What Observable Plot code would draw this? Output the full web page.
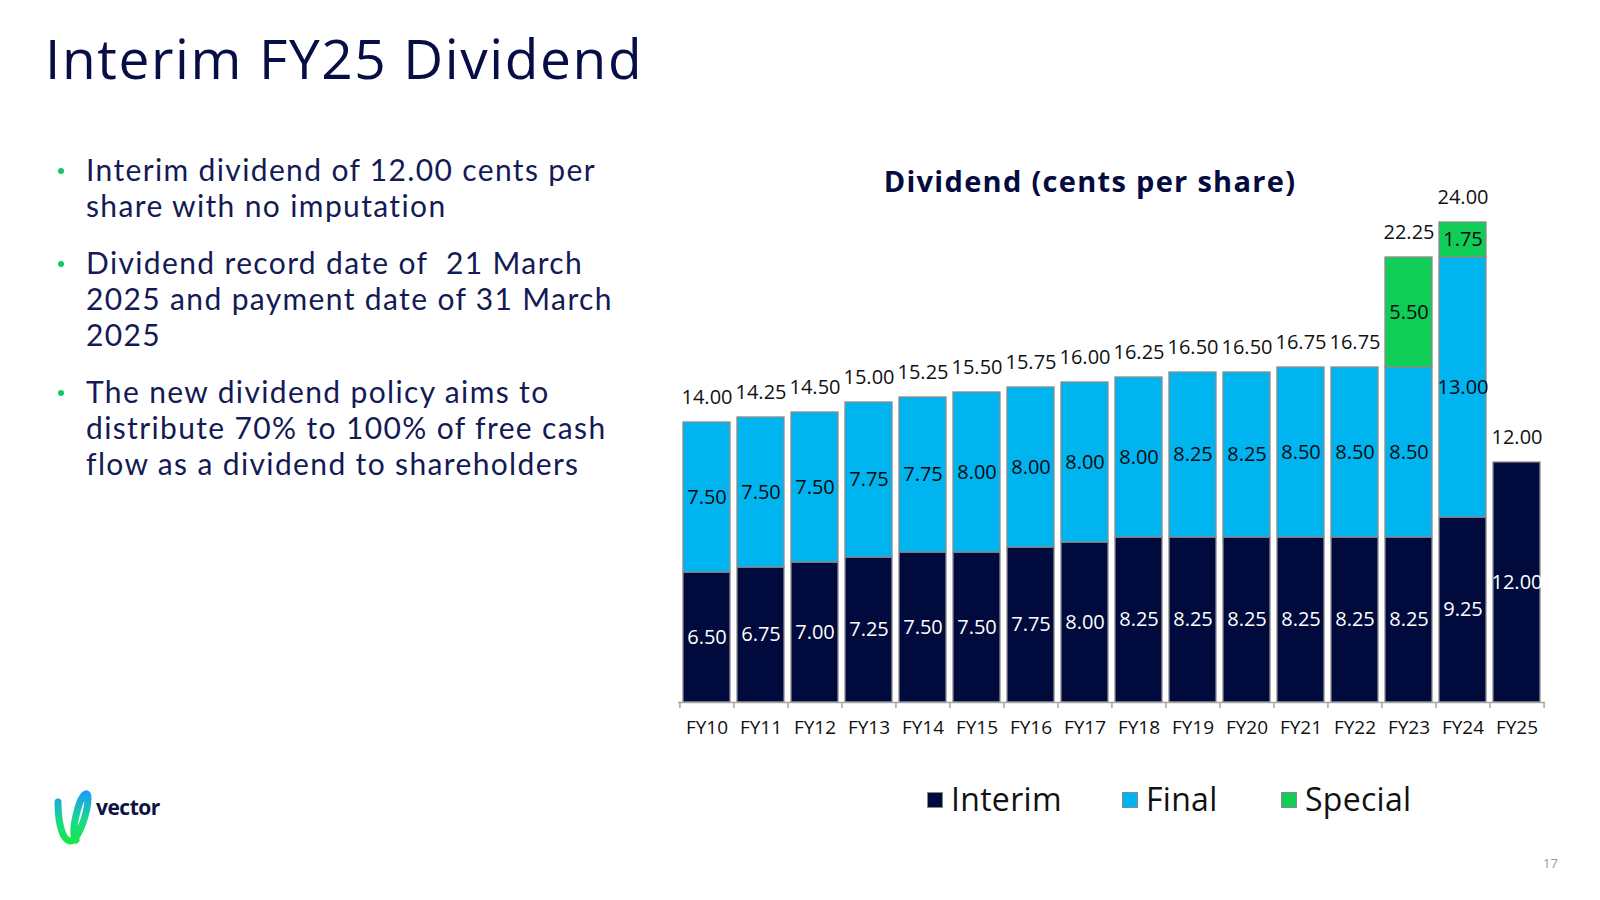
<!DOCTYPE html>
<html>
<head>
<meta charset="utf-8">
<script src="https://cdn.jsdelivr.net/npm/d3@7"></script>
<script src="https://cdn.jsdelivr.net/npm/@observablehq/plot@0.6"></script>
<style>
  html, body { margin: 0; padding: 0; background: #ffffff; }
  #page { position: relative; width: 1600px; height: 900px; overflow: hidden; font-family: "Open Sans", sans-serif; }
  #title { position: absolute; left: 45px; top: 31px; font-size: 55px; line-height: 54px; letter-spacing: 1.6px; color: #070d45; font-weight: 400; white-space: nowrap; }
  #bullets { position: absolute; left: 86px; top: 151px; width: 620px; margin: 0; padding: 0; list-style: none; color: #141a55; font-family: Lato, "Open Sans", sans-serif; font-weight: 400; font-size: 30px; line-height: 36px; letter-spacing: 1.5px; }
  #bullets li { position: relative; margin: 0 0 21px 0; white-space: nowrap; }
  #bullets li div { display: block; height: 36px; line-height: 36px; }
  #bullets li div span { display: inline-block; }
  #bullets li::before { content: ""; position: absolute; left: -28px; top: 17px; width: 6px; height: 6px; border-radius: 50%; background: #12c95a; }
  #ctitle { position: absolute; left: 0; width: 2180px; text-align: center; top: 167px; font-size: 29px; line-height: 28px; letter-spacing: 1.3px; font-weight: 700; color: #050b40; white-space: nowrap; }
  #chart { position: absolute; left: 650px; top: 150px; }
  .lg { position: absolute; top: 783px; font-size: 32px; line-height: 32px; color: #111; white-space: nowrap; letter-spacing: 0.3px; }
  .sw { position: absolute; top: 792px; width: 14px; height: 14px; border: 1px solid #8a8a8a; }
  #logo { position: absolute; left: 50px; top: 788px; }
  #pnum { position: absolute; left: 1543px; top: 854px; font-size: 13px; color: #9a9a9a; }
</style>
</head>
<body>
<div id="page">
  <div id="title">Interim FY25 Dividend</div>
  <ul id="bullets">
    <li><div><span id="firstline">Interim dividend of 12.00 cents per</span></div><div>share with no imputation</div></li>
    <li><div>Dividend record date of&nbsp; 21 March</div><div>2025 and payment date of 31 March</div><div>2025</div></li>
    <li><div>The new dividend policy aims to</div><div>distribute 70% to 100% of free cash</div><div>flow as a dividend to shareholders</div></li>
  </ul>
  <div id="ctitle">Dividend (cents per share)</div>
  <div id="chart"></div>
  <div id="legend"></div>
  <svg id="logo" width="120" height="62" viewBox="0 0 120 62">
    <defs>
      <linearGradient id="lgv" x1="0" y1="0" x2="0" y2="1">
        <stop offset="0" stop-color="#1aa0f2"/>
        <stop offset="0.55" stop-color="#19d98a"/>
        <stop offset="1" stop-color="#16e64c"/>
      </linearGradient>
    </defs>
    <path d="M8,14 C8,34 12,52 20,53 C28,54 38,24 38,10 C38,2 32,6 28,20 C24,34 22,48 26,52" fill="none" stroke="url(#lgv)" stroke-width="7" stroke-linecap="round"/>
    <text x="46" y="27" font-family="Open Sans, sans-serif" font-weight="700" font-size="21" fill="#0c1246" letter-spacing="-0.5">vector</text>
  </svg>
  <div id="pnum">17</div>
</div>
<script>
const categories = ["FY10","FY11","FY12","FY13","FY14","FY15","FY16","FY17","FY18","FY19","FY20","FY21","FY22","FY23","FY24","FY25"];
const interim = [6.50, 6.75, 7.00, 7.25, 7.50, 7.50, 7.75, 8.00, 8.25, 8.25, 8.25, 8.25, 8.25, 8.25, 9.25, 12.00];
const final   = [7.50, 7.50, 7.50, 7.75, 7.75, 8.00, 8.00, 8.00, 8.00, 8.25, 8.25, 8.50, 8.50, 8.50, 13.00, 0];
const special = [0, 0, 0, 0, 0, 0, 0, 0, 0, 0, 0, 0, 0, 5.50, 1.75, 0];
const seriesNames = ["Interim", "Final", "Special"];
const seriesColors = ["#000a3c", "#00b4f0", "#10cd58"];
const labelColors = ["#ffffff", "#0a0a0a", "#0a0a0a"];

// fit bullet letter-spacing so the first line spans the reference width
(function fitBullets() {
  const ul = document.getElementById("bullets");
  const span = document.getElementById("firstline");
  const target = 510;
  ul.style.letterSpacing = "0px";
  const w0 = span.getBoundingClientRect().width;
  const n = span.textContent.length;
  const ls = Math.max(0, Math.min(3, (target - w0) / n));
  ul.style.letterSpacing = ls + "px";
})();

const seriesValues = [interim, final, special];
const rows = [];
categories.forEach((c, i) => {
  let base = 0;
  seriesNames.forEach((s, j) => {
    const v = seriesValues[j][i];
    if (v > 0) { rows.push({cat: c, series: s, value: v, lo: base, hi: base + v}); base += v; }
  });
});
const totals = categories.map((c, i) => ({cat: c, total: interim[i] + final[i] + special[i]}));

const W = 920, H = 600, mL = 28, mR = 25, mT = 72, mB = 48;
const padInner = 0.13, padOuter = 0.065;
const step = (W - mL - mR) / (categories.length - padInner + 2 * padOuter);
const yMax = 24;
const pxPerUnit = (H - mT - mB) / yMax;

const labelMarks = seriesNames.map((s, j) =>
  Plot.text(rows.filter(d => d.series === s), {
    x: "cat", y: d => (d.lo + d.hi) / 2, text: d => d.value.toFixed(2),
    fill: labelColors[j], fontSize: 20
  })
);

const chart = Plot.plot({
  width: W, height: H,
  marginLeft: mL, marginRight: mR, marginTop: mT, marginBottom: mB,
  style: {fontFamily: "Open Sans, sans-serif", fontSize: "20px", color: "#111", background: "transparent"},
  x: {domain: categories, paddingInner: padInner, paddingOuter: padOuter, label: null},
  y: {domain: [0, yMax], axis: null},
  color: {domain: seriesNames, range: seriesColors},
  marks: [
    Plot.barY(rows, {x: "cat", y1: "lo", y2: "hi", fill: "series", stroke: "#8a8a8a", strokeWidth: 1.3}),
    ...labelMarks,
    Plot.text(totals, {x: "cat", y: "total", text: d => d.total.toFixed(2), dy: -24.5, fill: "#111", fontSize: 20}),
    Plot.ruleY([0], {stroke: "#a6a6a6", strokeWidth: 1.5}),
    Plot.ruleX(categories, {x: d => d, y1: 0, y2: -6 / pxPerUnit, dx: -step / 2, stroke: "#a6a6a6", strokeWidth: 1.5}),
    Plot.ruleX(categories.slice(-1), {x: d => d, y1: 0, y2: -6 / pxPerUnit, dx: step / 2, stroke: "#a6a6a6", strokeWidth: 1.5}),
    Plot.axisX({tickSize: 0, tickPadding: 18, fontSize: 19, fill: "#111", label: null})
  ]
});
document.getElementById("chart").appendChild(chart);

// legend
const legendX = [927, 1122, 1281];
const legend = document.getElementById("legend");
seriesNames.forEach((s, j) => {
  const sw = document.createElement("div");
  sw.className = "sw";
  sw.style.left = legendX[j] + "px";
  sw.style.background = seriesColors[j];
  legend.appendChild(sw);
  const t = document.createElement("div");
  t.className = "lg";
  t.style.left = (legendX[j] + 24) + "px";
  t.textContent = s;
  legend.appendChild(t);
});
</script>
</body>
</html>
